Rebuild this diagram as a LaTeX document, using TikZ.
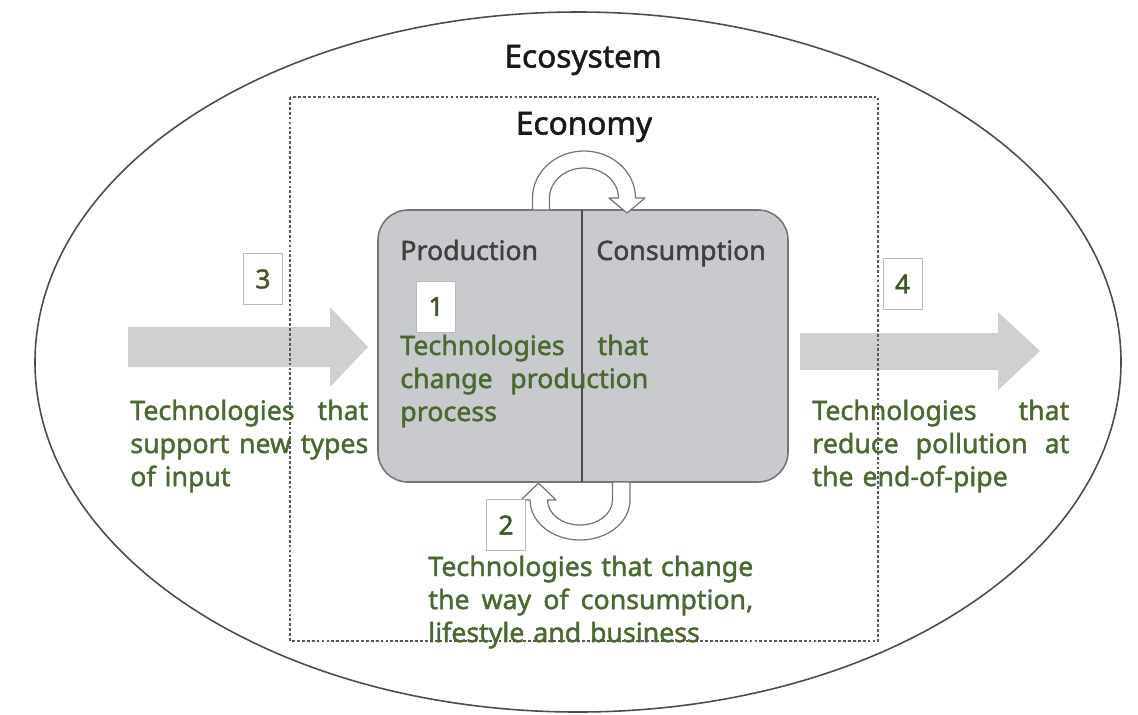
\documentclass[tikz,border=0pt]{standalone}
\usepackage{fontspec}
\setmainfont[FakeBold=1.6]{Noto Sans}
\usepackage{tikz}
\usetikzlibrary{calc}

\definecolor{techgreen}{HTML}{4A6830}
\definecolor{blockgray}{HTML}{D0D0D0}
\definecolor{boxgray}{HTML}{C9CACD}
\definecolor{edgegray}{HTML}{757575}

\begin{document}
\begin{tikzpicture}[x = 0.02cm, y = -0.02cm,
	tech/.style = {anchor = base west, inner sep = 0pt, align = left, text = techgreen, font = \fontsize{15.2}{18.8}\selectfont},
	numbox/.style = {draw = gray!55, fill = white, line width = 0.5pt, minimum width = 0.78cm, minimum height = 1.02cm, inner sep = 0pt, text = techgreen!85!black, font = \fontsize{15}{18}\selectfont},
	title/.style = {inner sep = 0pt, text = black!90, font = \fontsize{18}{22}\selectfont},
	part/.style = {anchor = base west, inner sep = 0pt, text = black!75, font = \fontsize{15.2}{18}\selectfont},
	loop/.style = {draw = edgegray, fill = white, line width = 0.7pt, line join = round}
	]
	\useasboundingbox (0,0) rectangle (1138,714);

	% ecosystem and economy
	\draw[black!70, line width = 0.9pt] (578,362) ellipse (543 and 350);
	\fill[blockgray] (128,327) -- (330,327) -- (330,307) -- (368,347) -- (330,387) -- (330,367) -- (128,367) -- cycle;
	\fill[blockgray] (800,333) -- (998,333) -- (998,312) -- (1040,351) -- (998,390) -- (998,370) -- (800,370) -- cycle;
	\draw[black!65, line width = 0.6pt, dash pattern = on 1.6pt off 1.2pt] (290,97) rectangle (878,641);
	\node[title] (ecosys) at (583,60) {Ecosystem};
	\node[title] (econ) at (584,127) {Economy};

	% production / consumption box
	\draw[edgegray, line width = 0.9pt, fill = boxgray, rounded corners = 0.6cm] (378,210) rectangle (788,482);
	\draw[black!70, line width = 0.9pt] (582,210) -- (582,482);
	\node[part] (prod) at (400,260) {Production};
	\node[part] (cons) at (596,260) {Consumption};

	% loops
	\draw[loop] (532.5,210) -- (532.5,198) arc[start angle = 180, end angle = 360, x radius = 51.5, y radius = 47]
		-- (645,198) -- (627,213) -- (609,198) -- (618.5,198)
		arc[start angle = 360, end angle = 180, x radius = 34.5, y radius = 30] -- (549.5,210) -- cycle;
	\draw[loop] (630,482) -- (630,500) arc[start angle = 0, end angle = 180, x radius = 50, y radius = 40]
		-- (521,500) -- (538.5,483) -- (556,500) -- (547.5,500)
		arc[start angle = 180, end angle = 0, x radius = 32.5, y radius = 25] -- (612.5,482) -- cycle;

	% numbers
	\node[numbox] (n1) at (436,306.5) {1};
	\node[numbox] (n2) at (506,525) {2};
	\node[numbox] (n3) at (263,279) {3};
	\node[numbox] (n4) at (902.5,284) {4};

	% technologies
	\node[tech, text width = 4.96cm] (t1) at (400,355) {Technologies\hfill that\\change\hfill production\\process};
	\node[tech, text width = 6.5cm] (t2) at (428,576) {Technologies\hfill that\hfill change\\the\hfill way\hfill of\hfill consumption,\\lifestyle and business};
	\node[tech, text width = 4.76cm] (t3) at (130,420) {Technologies\hfill that\\support\hfill new\hfill types\\of input};
	\node[tech, text width = 5.14cm] (t4) at (812,420) {Technologies\hfill that\\reduce\hfill pollution\hfill at\\the end-of-pipe};
\end{tikzpicture}
\end{document}
